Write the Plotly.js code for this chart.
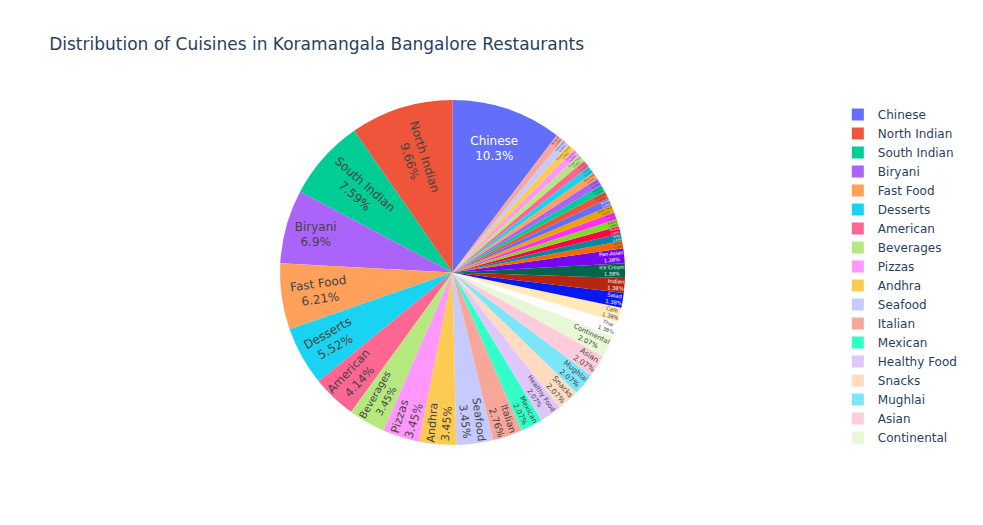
<!DOCTYPE html>
<html>
<head>
<meta charset="utf-8">
<script src="https://cdn.plot.ly/plotly-3.0.1.min.js"></script>
<style>
html,body{margin:0;padding:0;background:#fff;}
#chart{width:983px;height:525px;}
#chart .scrollbar{display:none;}
</style>
</head>
<body>
<div id="chart"></div>
<script>
// Cuisine names (in order of frequency)
var cuisines = [
  "Chinese", "North Indian", "South Indian", "Biryani", "Fast Food", "Desserts",
  "American", "Beverages", "Pizzas", "Andhra", "Seafood", "Italian",
  "Mexican", "Healthy Food", "Snacks", "Mughlai", "Asian", "Continental",
  "Thai", "Cafe", "Salad", "Indian", "Ice Cream", "Pan-Asian",
  "Kebab", "Rolls", "Momos", "Bakery", "Burger", "Street Food",
  "Kerala", "Chettinad", "Arabian", "Tibetan", "Japanese", "Sushi",
  "Juices", "Finger Food", "European", "Mediterranean", "Lebanese", "Bengali"
];
// Number of restaurants offering each cuisine
var counts = [
  15, 14, 11, 10, 9, 8,
  6, 5, 5, 5, 5, 4,
  3, 3, 3, 3, 3, 3,
  2, 2, 2, 2, 2, 2,
  1, 1, 1, 1, 1, 1,
  1, 1, 1, 1, 1, 1,
  1, 1, 1, 1, 1, 1
];
var palette = ["#636efa", "#EF553B", "#00cc96", "#ab63fa", "#FFA15A",
               "#19d3f3", "#FF6692", "#B6E880", "#FF97FF", "#FECB52"];

var trace = {
  type: "pie",
  labels: cuisines,
  values: counts,
  textinfo: "percent+label",
  textposition: "inside",
  automargin: true
};

var layout = {
  width: 983,
  height: 525,
  colorway: palette,
  paper_bgcolor: "#ffffff",
  plot_bgcolor: "#E5ECF6",
  font: {family: '"DejaVu Sans", Verdana, sans-serif', size: 12, color: "#2a3f5f"},
  title: {text: "Distribution of Cuisines in Koramangala Bangalore Restaurants", x: 0.05},
  legend: {tracegroupgap: 0},
  margin: {l: 82, r: 78, t: 100, b: 80}
};

Plotly.newPlot("chart", [trace], layout, {displayModeBar: false});
</script>
</body>
</html>
